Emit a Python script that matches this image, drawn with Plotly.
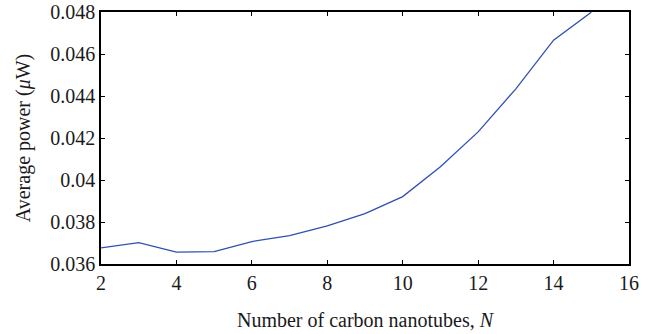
import plotly.graph_objects as go

n_tubes = [2, 3, 4, 5, 6, 7, 8, 9, 10, 11, 12, 13, 14, 15]
avg_power = [0.03677, 0.03702, 0.03657, 0.03659, 0.03707, 0.03735, 0.03781, 0.03840,
             0.03921, 0.04063, 0.04229, 0.04434, 0.04666, 0.04799]

x_ticks = [2, 4, 6, 8, 10, 12, 14, 16]
x_ticklabels = ["2", "4", "6", "8", "10", "12", "14", "16"]
y_ticks = [0.036, 0.038, 0.040, 0.042, 0.044, 0.046, 0.048]
y_ticklabels = ["0.036", "0.038", "0.04", "0.042", "0.044", "0.046", "0.048"]

font_family = "Liberation Serif, DejaVu Serif, serif"
text_color = "#1a1a1a"

fig = go.Figure()
fig.add_trace(go.Scatter(x=n_tubes, y=avg_power, mode="lines",
                         line=dict(color="#3050b0", width=1.3), showlegend=False))

axis_common = dict(showline=True, linecolor="black", linewidth=1.5, mirror="ticks",
                   ticks="inside", ticklen=4, tickcolor="black", tickwidth=1,
                   showgrid=False, zeroline=False, automargin=False,
                   tickfont=dict(family=font_family, size=20, color=text_color))

fig.update_xaxes(range=[2, 16], tickvals=x_ticks, ticktext=x_ticklabels,
                 title=dict(text="Number of carbon nanotubes, <i>N</i>",
                            font=dict(family=font_family, size=20, color=text_color),
                            standoff=20),
                 **axis_common)
fig.update_yaxes(range=[0.036, 0.048], tickvals=y_ticks, ticktext=y_ticklabels,
                 title=dict(text="Average power (<i>μ</i>W)",
                            font=dict(family=font_family, size=20, color=text_color),
                            standoff=14),
                 **axis_common)

fig.update_layout(width=660, height=334, paper_bgcolor="white", plot_bgcolor="white",
                  font=dict(family=font_family, color=text_color),
                  margin=dict(l=101, r=31, t=12, b=70))

fig.write_html("out.html")
